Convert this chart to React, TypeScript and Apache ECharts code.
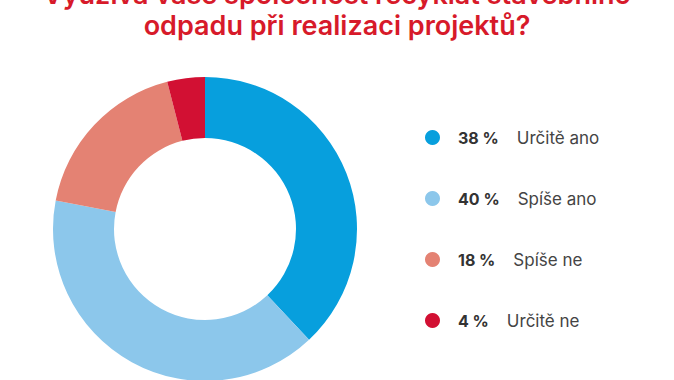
import React, { useEffect, useRef } from "react";
import * as echarts from "echarts";

const titleLines = ["Využívá vaše společnost recyklát stavebního", "odpadu při realizaci projektů?"];
const categories = ["Určitě ano", "Spíše ano", "Spíše ne", "Určitě ne"];
const values = [38, 40, 18, 4];
const colors = ["#079fdd", "#8cc7eb", "#e48273", "#d21033"];

export default function App() {
  const ref = useRef<HTMLDivElement>(null);
  useEffect(() => {
    document.body.style.margin = "0";
    const chart = echarts.init(ref.current!, null, { renderer: "svg" });
    const data = categories.map((name, i) => ({ name, value: values[i], itemStyle: { color: colors[i] } }));
    chart.setOption({
      animation: false,
      backgroundColor: "#ffffff",
      title: {
        text: titleLines.join("\n"),
        left: "center",
        top: -26,
        textStyle: {
          fontFamily: "Inter",
          fontSize: 27,
          fontWeight: 600,
          lineHeight: 31,
          color: "#d71a2a",
        },
      },
      legend: {
        orient: "vertical",
        left: 420,
        top: 124,
        icon: "circle",
        itemWidth: 15,
        itemHeight: 15,
        itemGap: 44,
        selectedMode: false,
        data: categories,
        formatter: (name: string) => {
          const i = categories.indexOf(name);
          return `{p|${values[i]} %}{n|${name}}`;
        },
        textStyle: {
          padding: [0, 0, 0, 13],
          rich: {
            p: { fontFamily: "Inter", fontSize: 16, fontWeight: 700, color: "#333333", padding: [0, 18, 0, 0] },
            n: { fontFamily: "Inter", fontSize: 17, fontWeight: 400, color: "#444444" },
          },
        },
      },
      series: [
        {
          type: "pie",
          center: [205, 229],
          radius: [91, 152],
          startAngle: 90,
          clockwise: true,
          label: { show: false },
          labelLine: { show: false },
          emphasis: { disabled: true },
          data,
        },
      ],
    });
    return () => chart.dispose();
  }, []);
  return <div ref={ref} style={{ width: 674, height: 380 }} />;
}
